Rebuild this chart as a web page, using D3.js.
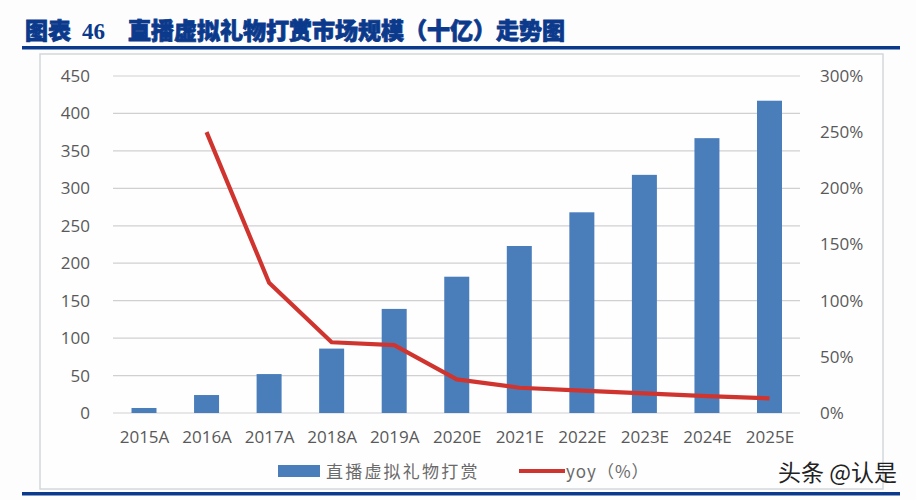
<!DOCTYPE html>
<html>
<head>
<meta charset="utf-8">
<script src="https://cdn.jsdelivr.net/npm/d3@7"></script>
<style>
html, body { margin: 0; padding: 0; background: #fdfdfe; }
svg { display: block; }
</style>
</head>
<body>
<svg></svg>
<script>
var years = ["2015A", "2016A", "2017A", "2018A", "2019A", "2020E", "2021E", "2022E", "2023E", "2024E", "2025E"];
var gifts = [6.7, 24, 52, 86, 139, 182, 223, 268, 318, 367, 417];
var yoy = [null, 250, 116, 63, 60.5, 30, 22.5, 20, 17.5, 15, 13];
var leftTicks = [0, 50, 100, 150, 200, 250, 300, 350, 400, 450];
var rightTicks = [0, 50, 100, 150, 200, 250, 300];

var width = 916, height = 500;
var textFont = "'Noto Sans CJK SC', sans-serif";
var axisColor = "#595959", blue = "#4a7ebb", red = "#d0342f", navy = "#0b3a8c";

var svg = d3.select("svg").attr("width", width).attr("height", height);

// heading and rules
svg.append("text")
    .attr("x", 25).attr("y", 39)
    .attr("font-family", textFont)
    .attr("font-size", 23).attr("font-weight", 900)
    .attr("fill", navy).attr("stroke", navy).attr("stroke-width", 0.8)
    .text("图表");
svg.append("text")
    .attr("x", 82).attr("y", 39)
    .attr("font-family", "'Liberation Serif', serif")
    .attr("font-size", 23).attr("font-weight", 700)
    .attr("fill", navy)
    .text("46");
svg.append("text")
    .attr("x", 128).attr("y", 39)
    .attr("font-family", textFont)
    .attr("font-size", 23).attr("font-weight", 900)
    .attr("fill", navy).attr("stroke", navy).attr("stroke-width", 0.8)
    .text("直播虚拟礼物打赏市场规模（十亿）走势图");

svg.append("rect").attr("x", 22).attr("y", 46).attr("width", 878).attr("height", 3.5).attr("fill", navy);
svg.append("rect").attr("x", 22).attr("y", 492).attr("width", 878).attr("height", 3.5).attr("fill", navy);

// chart frame
svg.append("rect")
    .attr("x", 40).attr("y", 54).attr("width", 843).attr("height", 435)
    .attr("fill", "#fefefe").attr("stroke", "#d4d8dc").attr("stroke-width", 1.5);

var xCenter = d3.scalePoint().domain(years).range([144, 769.5]);
var yLeft = d3.scaleLinear().domain([0, 450]).range([413, 76]);
var yRight = d3.scaleLinear().domain([0, 300]).range([413, 76]);

// gridlines
svg.append("g").selectAll("line")
    .data(leftTicks)
    .enter()
    .append("line")
    .attr("x1", 113).attr("x2", 800)
    .attr("y1", function (d) { return yLeft(d); })
    .attr("y2", function (d) { return yLeft(d); })
    .attr("stroke", "#d0d0d3").attr("stroke-width", 1.2);

// bars
svg.append("g").selectAll("rect")
    .data(gifts)
    .enter()
    .append("rect")
    .attr("x", function (d, i) { return xCenter(years[i]) - 12.5; })
    .attr("y", function (d) { return yLeft(d); })
    .attr("width", 25)
    .attr("height", function (d) { return yLeft(0) - yLeft(d); })
    .attr("fill", blue);

// yoy line, 2015 has no value
var line = d3.line()
    .defined(function (d) { return d !== null; })
    .x(function (d, i) { return xCenter(years[i]); })
    .y(function (d) { return yRight(d); });

svg.append("path")
    .attr("d", line(yoy))
    .attr("fill", "none")
    .attr("stroke", red)
    .attr("stroke-width", 4.2)
    .attr("stroke-linejoin", "round");

// axes
var leftAxis = d3.axisLeft(yLeft).tickValues(leftTicks).tickSize(0).tickPadding(0);
var rightAxis = d3.axisRight(yRight).tickValues(rightTicks).tickSize(0).tickPadding(0)
    .tickFormat(function (d) { return d + "%"; });
var bottomAxis = d3.axisBottom(xCenter).tickSize(0).tickPadding(0);

var gLeft = svg.append("g").attr("transform", "translate(90,0)").call(leftAxis);
var gRight = svg.append("g").attr("transform", "translate(820,0)").call(rightAxis);
var gBottom = svg.append("g").attr("transform", "translate(0,431)").call(bottomAxis);

[gLeft, gRight, gBottom].forEach(function (g) {
    g.select(".domain").remove();
    g.selectAll("text")
        .attr("font-family", "'Open Sans', sans-serif")
        .attr("font-size", 17)
        .attr("fill", axisColor);
});

// legend
svg.append("rect").attr("x", 278).attr("y", 465).attr("width", 42).attr("height", 12).attr("fill", blue);
svg.append("text")
    .attr("x", 326).attr("y", 478)
    .attr("font-family", textFont).attr("font-size", 17).attr("fill", "#6a6a6a")
    .attr("letter-spacing", 2.2)
    .text("直播虚拟礼物打赏");
svg.append("line")
    .attr("x1", 519).attr("x2", 565).attr("y1", 471).attr("y2", 471)
    .attr("stroke", red).attr("stroke-width", 4.2);
svg.append("text")
    .attr("x", 566).attr("y", 478)
    .attr("font-family", textFont).attr("font-size", 17).attr("fill", "#6a6a6a")
    .attr("letter-spacing", 1)
    .text("yoy（%）");

// watermark
svg.append("text")
    .attr("x", 778).attr("y", 481)
    .attr("font-family", textFont).attr("font-size", 23).attr("fill", "#222222")
    .text("头条 @认是");
</script>
</body>
</html>
